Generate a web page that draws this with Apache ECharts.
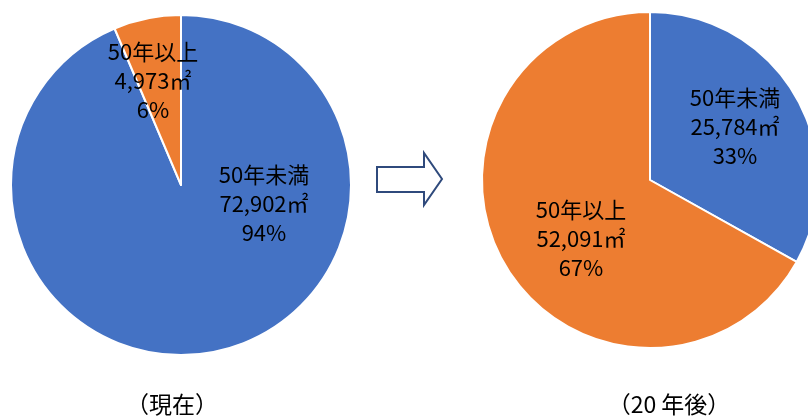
<!DOCTYPE html>
<html>
<head>
<meta charset="utf-8">
<script src="https://cdn.jsdelivr.net/npm/echarts@6/dist/echarts.min.js"></script>
<style>
html,body{margin:0;padding:0;background:#fff;}
#main{width:808px;height:417px;}
</style>
</head>
<body>
<div id="main"></div>
<script>
var categories = ['50年未満', '50年以上'];
var currentValues = [72902, 4973];
var futureValues = [25784, 52091];
var chartTitles = ['（現在）', '（20 年後）'];
var colors = ['#4472C4', '#ED7D31'];

var FONT = '"Noto Sans CJK JP", "Noto Sans", sans-serif';

function fmt(p) {
  return p.name + '\n' + p.value.toLocaleString('en-US') + '㎡' + '\n' + Math.round(p.percent) + '%';
}

// label centers per series / data index
var labelPos = [
  [[264, 204], [153, 81]],
  [[735, 127], [581, 239]]
];

function mkData(vals) {
  return categories.map(function (c, i) {
    return { name: c, value: vals[i], itemStyle: { color: colors[i] } };
  });
}

function mkSeries(vals, center, radius, idx) {
  return {
    type: 'pie',
    center: center,
    radius: radius,
    startAngle: 90,
    clockwise: true,
    animation: false,
    silent: true,
    itemStyle: { borderColor: '#fff', borderWidth: 2 },
    label: {
      show: true,
      position: 'inside',
      formatter: fmt,
      color: '#000',
      fontFamily: FONT,
      fontSize: 22,
      lineHeight: 29,
      align: 'center'
    },
    labelLine: { show: false },
    labelLayout: function (params) {
      var p = labelPos[idx][params.dataIndex];
      return { x: p[0], y: p[1], align: 'center', verticalAlign: 'middle' };
    },
    data: mkData(vals)
  };
}

var chart = echarts.init(document.getElementById('main'), null, { renderer: 'canvas' });
chart.setOption({
  backgroundColor: '#fff',
  animation: false,
  series: [
    mkSeries(currentValues, [181, 185], 170, 0),
    mkSeries(futureValues, [650, 180], 168, 1)
  ],
  graphic: [
    {
      type: 'polygon',
      shape: { points: [[377, 167], [424, 167], [424, 153], [442, 179], [424, 205], [424, 192], [377, 192]] },
      style: { fill: '#fff', stroke: '#2F4A7C', lineWidth: 2 }
    },
    {
      type: 'text', x: 172, y: 404,
      style: { text: chartTitles[0], fontFamily: FONT, fontSize: 23, fill: '#000', align: 'center', verticalAlign: 'middle' }
    },
    {
      type: 'text', x: 669, y: 404,
      style: { text: chartTitles[1], fontFamily: FONT, fontSize: 23, fill: '#000', align: 'center', verticalAlign: 'middle' }
    }
  ]
});
</script>
</body>
</html>
